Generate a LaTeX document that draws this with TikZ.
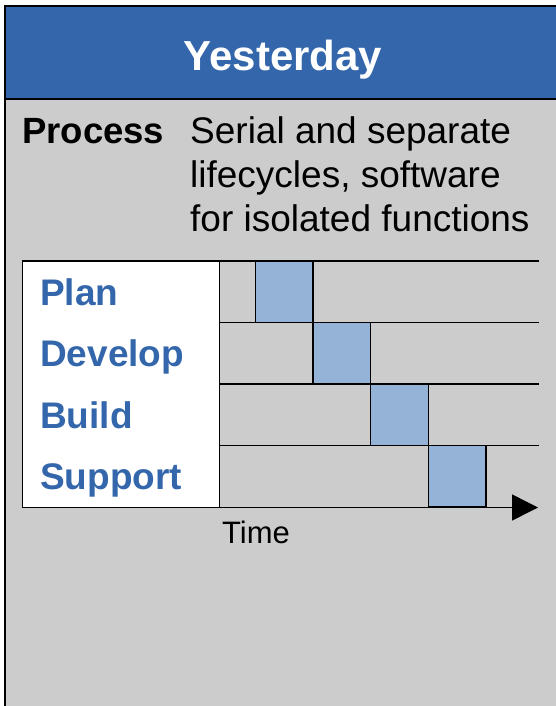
\documentclass[tikz,border=0pt]{standalone}
\usepackage{fontspec}
\setmainfont{Liberation Sans}
\usetikzlibrary{arrows.meta}
\definecolor{hdrblue}{HTML}{3366AA}
\definecolor{panelgray}{HTML}{CCCCCC}
\definecolor{stepblue}{HTML}{95B3D7}
\begin{document}
\begin{tikzpicture}[x=1pt,y=-1pt,
  rule/.style={line width=1.5pt,draw=black},
  frame/.style={draw=black,line width=2pt,inner sep=0pt,outer sep=0pt,anchor=north west},
  phase/.style={draw=black,line width=1.5pt,fill=stepblue,minimum width=57.6pt,minimum height=61.5pt,inner sep=0pt,outer sep=0pt,anchor=north west},
  phasename/.style={anchor=base west,inner sep=0pt,text=hdrblue,font=\bfseries\fontsize{37}{44}\selectfont},
  bodytext/.style={anchor=base west,inner sep=0pt,font=\fontsize{37}{44}\selectfont}
]
\useasboundingbox (0,0) rectangle (555,706);
\fill[white] (0,0) rectangle (555,706);
% panel and header
\node[frame,fill=panelgray,minimum width=560pt,minimum height=620pt] (panel) at (5,99.5) {};
\node[frame,fill=hdrblue,minimum width=560pt,minimum height=93.5pt] (header) at (5,6) {};
\node[anchor=base,inner sep=0pt,text=white,font=\bfseries\fontsize{42}{50}\selectfont] (title) at (283,71) {Yesterday};
% process text
\node[bodytext,font=\bfseries\fontsize{36.5}{44}\selectfont] (proc) at (22,143) {Process};
\node[bodytext,align=left] (desc) at (190,231) {Serial and separate\\lifecycles, software\\for isolated functions};
% chart
\node[draw=black,line width=1.5pt,fill=white,inner sep=0pt,outer sep=0pt,anchor=north west,minimum width=197pt,minimum height=246.5pt] (names) at (22.5,261) {};
\coordinate (e0) at (539,261);
\coordinate (e1) at (539,322.5);
\coordinate (e2) at (539,384);
\coordinate (e3) at (539,445.5);
\draw[rule] (names.north east) -- (e0);
\draw[rule] (names.east |- e1) -- (e1);
\draw[rule] (names.east |- e2) -- (e2);
\draw[rule] (names.east |- e3) -- (e3);
\coordinate (tip) at (538,507.5);
\draw[rule,-{Triangle[length=26pt,width=26pt]}] (names.south west) -- (tip);
\node[phase] (p1) at (255.5,261) {};
\node[phase] (p2) at (313.1,322.5) {};
\node[phase] (p3) at (370.7,384) {};
\node[phase] (p4) at (428.3,445.5) {};
\node[phasename] (n1) at (40,305) {Plan};
\node[phasename] (n2) at (40,366.5) {Develop};
\node[phasename] (n3) at (40,428) {Build};
\node[phasename] (n4) at (40,489.5) {Support};
\node[bodytext,font=\fontsize{31}{37}\selectfont] (time) at (222,543) {Time};
\end{tikzpicture}
\end{document}
